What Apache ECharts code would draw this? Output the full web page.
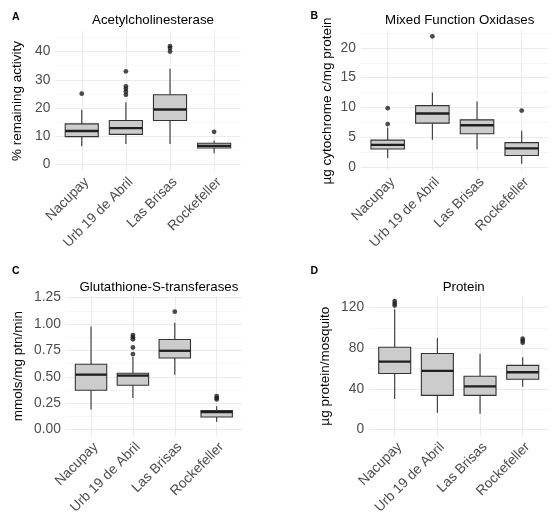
<!DOCTYPE html>
<html>
<head>
<meta charset="utf-8">
<script src="https://cdn.jsdelivr.net/npm/echarts@6/dist/echarts.min.js"></script>
<style>
html,body{margin:0;padding:0;background:#fff;}
#chart{width:555px;height:517px;}
</style>
</head>
<body>
<div id="chart"></div>
<script>
// ---- data ----
const categories = ['Nacupay', 'Urb 19 de Abril', 'Las Brisas', 'Rockefeller'];

// [lower whisker, Q1, median, Q3, upper whisker]
const aceBoxes = [[6.5, 9.9, 11.9, 14.4, 19.4], [7.3, 10.7, 12.9, 15.6, 22.1], [7.3, 15.6, 19.5, 24.7, 33.9], [4.0, 5.9, 6.6, 7.55, 8.5]];
const aceOutliers = [[25.1], [24.7, 25.8, 26.8, 27.7, 33.0], [40.0, 41.2, 41.9], [11.6]];
const aceTicks = [0, 10, 20, 30, 40];
const aceMinor = [5, 15, 25, 35, 45];

const mfoBoxes = [[1.5, 3.0, 3.68, 4.5, 6.6], [4.57, 7.35, 8.97, 10.3, 12.5], [2.9, 5.57, 7.0, 7.9, 11.0], [0.5, 1.9, 3.1, 4.07, 6.07]];
const mfoOutliers = [[7.19, 9.86], [21.95], [], [9.47]];
const mfoTicks = [0, 5, 10, 15, 20];
const mfoMinor = [2.5, 7.5, 12.5, 17.5, 22.5];

const gstBoxes = [[0.19, 0.373, 0.52, 0.618, 0.975], [0.298, 0.42, 0.511, 0.533, 0.69], [0.52, 0.677, 0.746, 0.853, 1.012], [0.075, 0.119, 0.166, 0.179, 0.22]];
const gstOutliers = [[], [0.715, 0.777, 0.855, 0.875, 0.895], [1.116], [0.285, 0.30, 0.317]];
const gstTicks = [0, 0.25, 0.5, 0.75, 1.0, 1.25];
const gstMinor = [0.125, 0.375, 0.625, 0.875, 1.125];

const protBoxes = [[29.9, 55, 66.7, 81, 118.5], [16.3, 33.5, 57.6, 74.8, 90], [15.3, 33.5, 42.3, 52.4, 74.5], [42, 49.4, 56.3, 63.1, 71.2]];
const protOutliers = [[122, 124.2, 126.5], [], [], [85.5, 87.5, 89.4]];
const protTicks = [0, 40, 80, 120];
const protMinor = [20, 60, 100];

const panelTitles = ['Acetylcholinesterase', 'Mixed Function Oxidases', 'Glutathione-S-transferases', 'Protein'];
const panelLetters = ['A', 'B', 'C', 'D'];
const yTitles = ['% remaining activity', 'µg cytochrome c/mg protein', 'mmols/mg ptn/min', 'µg protein/mosquito'];

// ---- layout / style ----
const FONT = '"Liberation Sans", Arial, sans-serif';
const panels = [
  {boxes: aceBoxes, outl: aceOutliers, ticks: aceTicks, minor: aceMinor, min: -2.25, max: 47.25, grid: {left: 55.3, top: 31, width: 185.3, height: 140}, nameGap: 31, fmt: v => String(v), title: [148, 9], letter: [7, 6.5]},
  {boxes: mfoBoxes, outl: mfoOutliers, ticks: mfoTicks, minor: mfoMinor, min: -0.7, max: 22.85, grid: {left: 360.9, top: 31, width: 187.6, height: 140}, nameGap: 27, fmt: v => String(v), title: [454.7, 9], letter: [305.5, 5.5]},
  {boxes: gstBoxes, outl: gstOutliers, ticks: gstTicks, minor: gstMinor, min: -0.06, max: 1.26, grid: {left: 65.9, top: 296.5, width: 175.9, height: 140}, nameGap: 41, fmt: v => v.toFixed(2), title: [153.9, 275.5], letter: [7, 261]},
  {boxes: protBoxes, outl: protOutliers, ticks: protTicks, minor: protMinor, min: -6.5, max: 131, grid: {left: 369.1, top: 296.5, width: 179.2, height: 140}, nameGap: 37, fmt: v => String(v), title: [458.7, 275.5], letter: [305.5, 260.5]}
];

const HALF = 0.375;
function renderBox(params, api) {
  const x = api.value(0);
  const lo = api.value(1), q1 = api.value(2), med = api.value(3), q3 = api.value(4), hi = api.value(5);
  const pLo = api.coord([x, lo]), pQ1 = api.coord([x, q1]), pQ3 = api.coord([x, q3]), pHi = api.coord([x, hi]);
  const tl = api.coord([x - HALF, q3]), br = api.coord([x + HALF, q1]);
  const ml = api.coord([x - HALF, med]), mr = api.coord([x + HALF, med]);
  const stroke = '#333333';
  return {
    type: 'group',
    children: [
      {type: 'line', shape: {x1: pLo[0], y1: pLo[1], x2: pQ1[0], y2: pQ1[1]}, style: {stroke: stroke, lineWidth: 1.1}},
      {type: 'line', shape: {x1: pQ3[0], y1: pQ3[1], x2: pHi[0], y2: pHi[1]}, style: {stroke: stroke, lineWidth: 1.1}},
      {type: 'rect', shape: {x: tl[0], y: tl[1], width: br[0] - tl[0], height: br[1] - tl[1]}, style: {fill: '#cccccc', stroke: stroke, lineWidth: 1.1}},
      {type: 'line', shape: {x1: ml[0], y1: ml[1], x2: mr[0], y2: mr[1]}, style: {stroke: '#1f1f1f', lineWidth: 2.3}}
    ]
  };
}

const option = {
  animation: false,
  backgroundColor: '#ffffff',
  textStyle: {fontFamily: FONT},
  title: [],
  grid: [],
  xAxis: [],
  yAxis: [],
  series: []
};

panels.forEach((p, i) => {
  option.grid.push(Object.assign({containLabel: false}, p.grid));
  option.title.push({
    text: panelTitles[i], left: p.title[0], top: p.title[1], textAlign: 'center',
    textStyle: {fontFamily: FONT, fontSize: 13.3, fontWeight: 'normal', color: '#000000'}
  });
  option.title.push({
    text: panelLetters[i], left: p.letter[0], top: p.letter[1],
    textStyle: {fontFamily: FONT, fontSize: 10.5, fontWeight: 'bold', color: '#000000'}
  });
  option.xAxis.push({
    type: 'value', gridIndex: i, min: 0.4, max: 4.6,
    axisLine: {show: false},
    axisTick: {show: false, customValues: [1, 2, 3, 4]},
    splitLine: {show: true, lineStyle: {color: '#ebebeb', width: 1}},
    axisLabel: {
      customValues: [1, 2, 3, 4], rotate: 45, align: 'right', verticalAlign: 'top', margin: 4,
      fontFamily: FONT, fontSize: 13.8, color: '#4d4d4d',
      formatter: v => categories[Math.round(v) - 1]
    }
  });
  option.yAxis.push({
    type: 'value', gridIndex: i, min: p.min, max: p.max, position: 'left',
    name: yTitles[i], nameLocation: 'middle', nameRotate: 90, nameGap: p.nameGap,
    nameTextStyle: {fontFamily: FONT, fontSize: 13.5, color: '#000000'},
    axisLine: {show: false},
    axisTick: {show: false, customValues: p.ticks},
    splitLine: {show: true, lineStyle: {color: '#ebebeb', width: 1}},
    axisLabel: {customValues: p.ticks, margin: 5, fontFamily: FONT, fontSize: 13.8, color: '#4d4d4d', formatter: p.fmt}
  });
  option.yAxis.push({
    type: 'value', gridIndex: i, min: p.min, max: p.max, position: 'left',
    axisLine: {show: false},
    axisTick: {show: false, customValues: p.minor},
    axisLabel: {show: false, customValues: p.minor},
    splitLine: {show: true, lineStyle: {color: '#f3f3f3', width: 0.7}}
  });
  const boxData = p.boxes.map((b, k) => [k + 1].concat(b));
  const outData = [];
  p.outl.forEach((arr, k) => arr.forEach(v => outData.push([k + 1, v])));
  option.series.push({
    type: 'custom', xAxisIndex: i, yAxisIndex: 2 * i,
    renderItem: renderBox, data: boxData,
    encode: {x: 0, y: [1, 2, 3, 4, 5]}, z: 3
  });
  option.series.push({
    type: 'scatter', xAxisIndex: i, yAxisIndex: 2 * i,
    data: outData, symbol: 'circle', symbolSize: 4.8,
    itemStyle: {color: '#1f1f1f'}, z: 4
  });
});

const chart = echarts.init(document.getElementById('chart'), null, {renderer: 'canvas'});
chart.setOption(option);
</script>
</body>
</html>
